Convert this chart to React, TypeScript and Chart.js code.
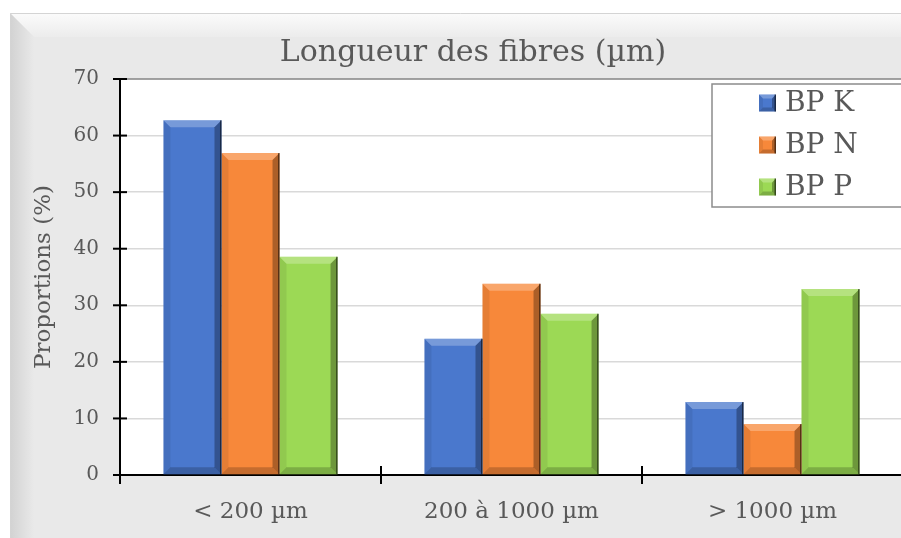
import React, { useEffect, useRef } from "react";
import { Chart, registerables } from "chart.js";

Chart.register(...registerables);

const categories = ["< 200 µm", "200 à 1000 µm", "> 1000 µm"];
const seriesNames = ["BP K", "BP N", "BP P"];
const bpK = [62.7, 24.1, 12.9];
const bpN = [56.9, 33.8, 9.0];
const bpP = [38.6, 28.5, 32.9];
const seriesColors = ["#4a78cd", "#f7883a", "#9cd955"];
const titleText = "Longueur des fibres (µm)";
const yTitle = "Proportions (%)";
const yMin = 0;
const yMax = 70;
const yStep = 10;

const FONT = "'DejaVu Serif', serif";
const TEXT = "#595959";

const backgroundPlugin = {
  id: "bgFrame",
  beforeDraw(chart: any) {
    const { ctx, width, height, chartArea } = chart;
    ctx.save();
    ctx.fillStyle = "#ffffff";
    ctx.fillRect(0, 0, width, height);
    const fx = 10, fy = 13;
    ctx.fillStyle = "#e9e9e9";
    ctx.fillRect(fx, fy, width - fx, height - fy);
    // top bevel
    let g = ctx.createLinearGradient(0, fy, 0, fy + 24);
    g.addColorStop(0, "#fbfbfb");
    g.addColorStop(1, "#ececec");
    ctx.fillStyle = g;
    ctx.beginPath();
    ctx.moveTo(fx, fy);
    ctx.lineTo(width, fy);
    ctx.lineTo(width, fy + 24);
    ctx.lineTo(fx + 24, fy + 24);
    ctx.closePath();
    ctx.fill();
    // left bevel
    g = ctx.createLinearGradient(fx, 0, fx + 24, 0);
    g.addColorStop(0, "#d2d2d2");
    g.addColorStop(1, "#e9e9e9");
    ctx.fillStyle = g;
    ctx.beginPath();
    ctx.moveTo(fx, fy);
    ctx.lineTo(fx + 24, fy + 24);
    ctx.lineTo(fx + 24, height);
    ctx.lineTo(fx, height);
    ctx.closePath();
    ctx.fill();
    ctx.strokeStyle = "#d4d4d4";
    ctx.lineWidth = 1;
    ctx.beginPath();
    ctx.moveTo(fx + 0.5, height);
    ctx.lineTo(fx + 0.5, fy + 0.5);
    ctx.lineTo(width, fy + 0.5);
    ctx.stroke();
    // plot area
    ctx.fillStyle = "#ffffff";
    ctx.fillRect(chartArea.left, chartArea.top, chartArea.right - chartArea.left, chartArea.bottom - chartArea.top);
    // title
    ctx.fillStyle = TEXT;
    ctx.font = `30px ${FONT}`;
    ctx.textAlign = "center";
    ctx.textBaseline = "alphabetic";
    ctx.fillText(titleText, 473, 61);
    ctx.restore();
  },
};

function bevel(ctx: any, l: number, t: number, r: number, b: number, d: number) {
  const poly = (pts: number[][], fill: string) => {
    ctx.fillStyle = fill;
    ctx.beginPath();
    ctx.moveTo(pts[0][0], pts[0][1]);
    for (let i = 1; i < pts.length; i++) ctx.lineTo(pts[i][0], pts[i][1]);
    ctx.closePath();
    ctx.fill();
  };
  poly([[l, t], [r, t], [r - d, t + d], [l + d, t + d]], "rgba(255,255,255,0.25)");
  poly([[r, t], [r, b], [r - d, b - d], [r - d, t + d]], "rgba(0,0,0,0.3)");
  poly([[l, t], [l + d, t + d], [l + d, b - d], [l, b]], "rgba(0,0,0,0.07)");
  poly([[l, b], [l + d, b - d], [r - d, b - d], [r, b]], "rgba(0,0,0,0.2)");
  ctx.strokeStyle = "rgba(0,0,0,0.5)";
  ctx.lineWidth = 1.5;
  ctx.beginPath();
  ctx.moveTo(r - 0.75, t);
  ctx.lineTo(r - 0.75, b);
  ctx.stroke();
}

const overlayPlugin = {
  id: "overlay",
  afterDatasetsDraw(chart: any) {
    const { ctx } = chart;
    ctx.save();
    chart.data.datasets.forEach((_ds: any, i: number) => {
      const meta = chart.getDatasetMeta(i);
      meta.data.forEach((bar: any) => {
        const l = bar.x - bar.width / 2;
        const r = bar.x + bar.width / 2;
        bevel(ctx, l, bar.y, r, bar.base, 7);
      });
    });
    ctx.restore();
  },
  afterDraw(chart: any) {
    const { ctx, chartArea, scales } = chart;
    const xs = scales.x;
    const ys = scales.y;
    ctx.save();
    // top border of plot area
    ctx.strokeStyle = "#8a8a8a";
    ctx.lineWidth = 1.5;
    ctx.beginPath();
    ctx.moveTo(chartArea.left, chartArea.top);
    ctx.lineTo(chartArea.right, chartArea.top);
    ctx.stroke();
    // y tick marks crossing axis
    ctx.strokeStyle = "#000000";
    ctx.lineWidth = 2;
    ys.ticks.forEach((_t: any, i: number) => {
      const y = ys.getPixelForTick(i);
      ctx.beginPath();
      ctx.moveTo(chartArea.left - 7, y);
      ctx.lineTo(chartArea.left + 7, y);
      ctx.stroke();
    });
    // x tick marks at category boundaries
    const n = categories.length;
    const step = (xs.right - xs.left) / n;
    for (let i = 0; i <= n; i++) {
      const x = xs.left + i * step;
      ctx.beginPath();
      ctx.moveTo(x, chartArea.bottom - 9);
      ctx.lineTo(x, chartArea.bottom + 9);
      ctx.stroke();
    }
    // legend
    const bx = 712, by = 84, bw = 190, bh = 123;
    ctx.fillStyle = "#ffffff";
    ctx.fillRect(bx, by, bw, bh);
    ctx.strokeStyle = "#8c8c8c";
    ctx.lineWidth = 1.5;
    ctx.strokeRect(bx, by, bw, bh);
    chart.data.datasets.forEach((ds: any, i: number) => {
      const cy = 103 + i * 42;
      const mx = 759, ms = 17;
      ctx.fillStyle = ds.backgroundColor;
      ctx.fillRect(mx, cy - ms / 2, ms, ms);
      bevel(ctx, mx, cy - ms / 2, mx + ms, cy + ms / 2, 4);
      ctx.fillStyle = TEXT;
      ctx.font = `28px ${FONT}`;
      ctx.textAlign = "left";
      ctx.textBaseline = "middle";
      ctx.fillText(ds.label, 785, cy + 1);
    });
    ctx.restore();
  },
};

export default function App() {
  const ref = useRef<HTMLCanvasElement | null>(null);
  useEffect(() => {
    if (!ref.current) return;
    const values = [bpK, bpN, bpP];
    const chart = new Chart(ref.current, {
      type: "bar",
      data: {
        labels: categories,
        datasets: seriesNames.map((name, i) => ({
          label: name,
          data: values[i],
          backgroundColor: seriesColors[i],
          borderWidth: 0,
          categoryPercentage: 0.667,
          barPercentage: 1,
        })),
      },
      options: {
        animation: false,
        responsive: false,
        events: [],
        layout: { padding: { top: 79, left: 0, right: 7, bottom: 0 } },
        plugins: {
          legend: { display: false },
          title: { display: false },
          tooltip: { enabled: false },
        },
        scales: {
          x: {
            type: "category",
            afterFit(scale: any) {
              scale.height = 63;
            },
            grid: { display: false },
            border: { display: true, color: "#000000", width: 2 },
            ticks: {
              color: TEXT,
              font: { family: FONT, size: 23 },
              padding: 15,
              maxRotation: 0,
              autoSkip: false,
            },
          },
          y: {
            min: yMin,
            max: yMax,
            afterFit(scale: any) {
              scale.width = 120;
            },
            grid: { color: "#d9d9d9", lineWidth: 1.5, drawTicks: false },
            border: { display: true, color: "#000000", width: 2 },
            ticks: {
              stepSize: yStep,
              color: TEXT,
              font: { family: FONT, size: 20 },
              padding: 21,
            },
            title: {
              display: true,
              text: yTitle,
              color: TEXT,
              font: { family: FONT, size: 23 },
              padding: { top: 30, bottom: 0 },
            },
          },
        },
      },
      plugins: [backgroundPlugin, overlayPlugin],
    } as any);
    return () => chart.destroy();
  }, []);
  return (
    <div style={{ position: "fixed", left: 0, top: 0, width: 901, height: 538, overflow: "hidden" }}>
      <canvas ref={ref} width={910} height={538} style={{ display: "block", width: 910, height: 538 }} />
    </div>
  );
}
